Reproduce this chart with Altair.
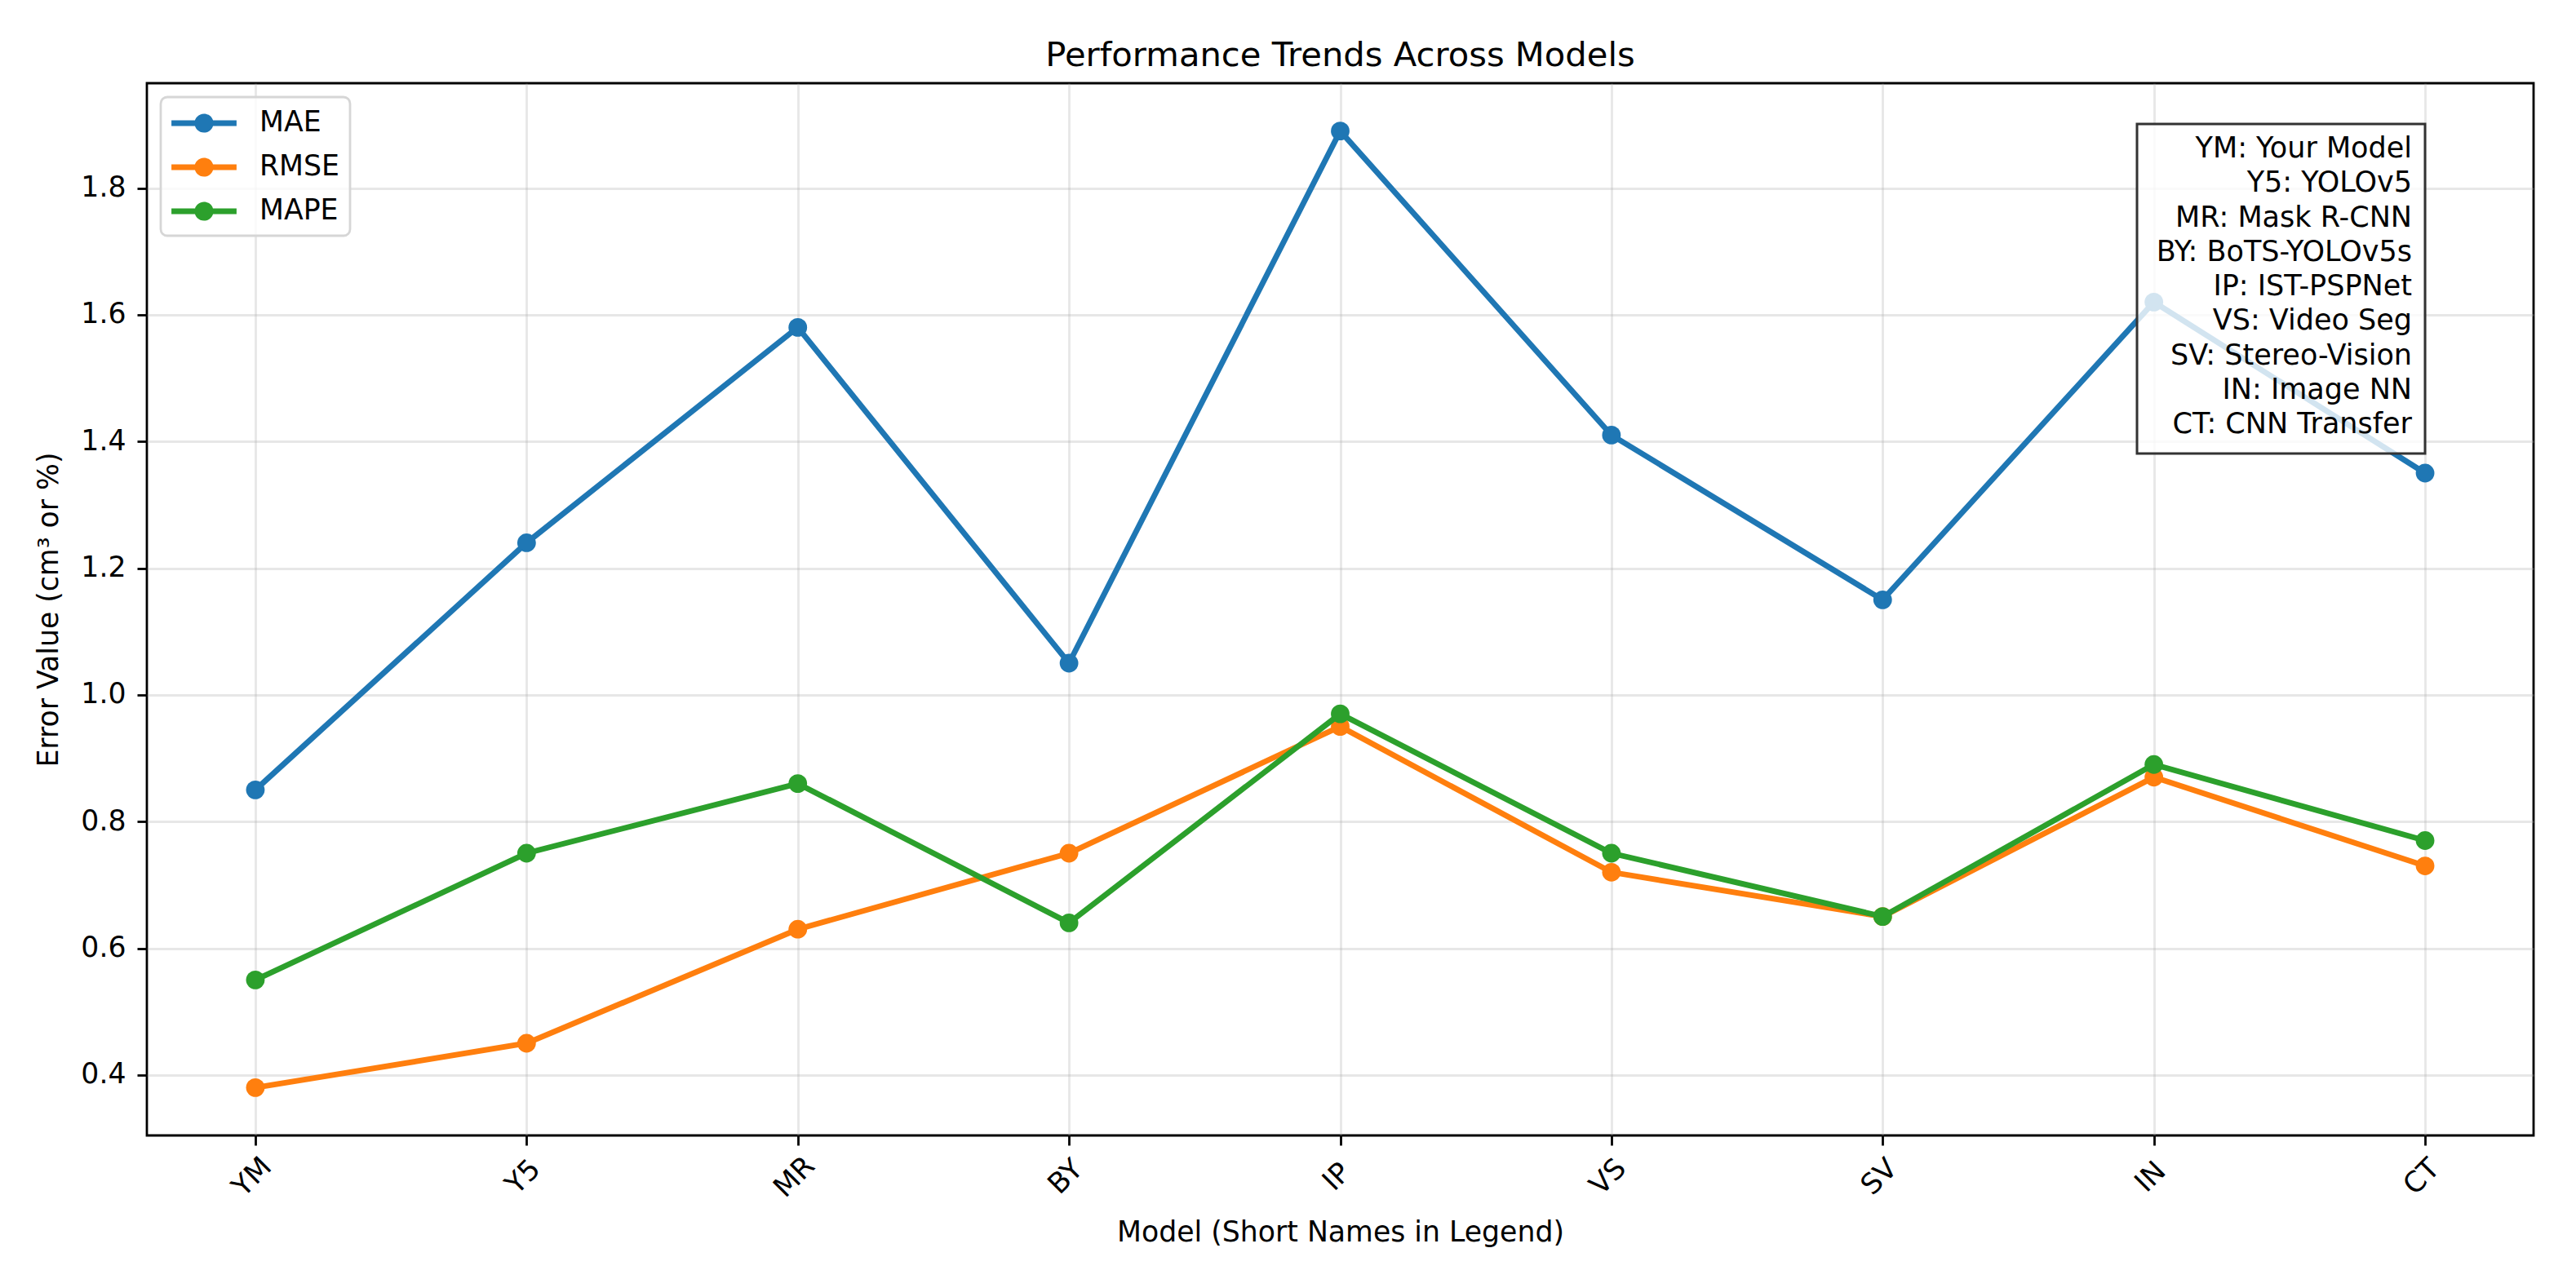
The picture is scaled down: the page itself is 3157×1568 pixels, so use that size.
import altair as alt
import pandas as pd

# ---- data ----
models = ["YM", "Y5", "MR", "BY", "IP", "VS", "SV", "IN", "CT"]
full_names = ["Your Model", "YOLOv5", "Mask R-CNN", "BoTS-YOLOv5s", "IST-PSPNet",
              "Video Seg", "Stereo-Vision", "Image NN", "CNN Transfer"]
mae = [0.85, 1.24, 1.58, 1.05, 1.89, 1.41, 1.15, 1.62, 1.35]
rmse = [0.38, 0.45, 0.63, 0.75, 0.95, 0.72, 0.65, 0.87, 0.73]
mape = [0.55, 0.75, 0.86, 0.64, 0.97, 0.75, 0.65, 0.89, 0.77]
series_names = ["MAE", "RMSE", "MAPE"]
series_colors = ["#1f77b4", "#ff7f0e", "#2ca02c"]
y_ticks = [0.4, 0.6, 0.8, 1.0, 1.2, 1.4, 1.6, 1.8]

FONT = "DejaVu Sans"
W, H = 2925, 1290

rows = []
for name, vals in zip(series_names, [mae, rmse, mape]):
    for i, (m, v) in enumerate(zip(models, vals)):
        rows.append({"Model": m, "Metric": name, "Value": v, "order": i})
df = pd.DataFrame(rows)

all_vals = mae + rmse + mape
lo, hi = min(all_vals), max(all_vals)
pad = (hi - lo) * 0.05
y_domain = [lo - pad, hi + pad]

x_enc = alt.X("Model:N", sort=models,
              scale=alt.Scale(type="point", padding=0.4, domain=models),
              axis=alt.Axis(title="Model (Short Names in Legend)", labelAngle=315,
                            labelAlign="center", labelBaseline="middle",
                            labelPadding=39, labelOffset=-4, tickSize=12, tickWidth=2.8,
                            tickColor="black", domain=False, grid=True,
                            gridColor="#b0b0b0", gridOpacity=0.3, gridWidth=2.8,
                            labelFontSize=34.7, labelFont=FONT, labelColor="black",
                            titleFontSize=34.7, titleFont=FONT, titleFontWeight="normal",
                            titleColor="black", titleX=W / 2, titleY=119,
                            titleAlign="center", titleBaseline="middle"))
y_enc = alt.Y("Value:Q",
              scale=alt.Scale(domain=y_domain, zero=False, nice=False),
              axis=alt.Axis(title="Error Value (cm³ or %)", values=y_ticks, format=".1f",
                            tickSize=12, tickWidth=2.8, tickColor="black", domain=False,
                            grid=True, gridColor="#b0b0b0", gridOpacity=0.3, gridWidth=2.8,
                            labelPadding=14, labelFontSize=34.7, labelFont=FONT,
                            labelColor="black", titleFontSize=34.7, titleFont=FONT,
                            titleFontWeight="normal", titleColor="black",
                            titleX=-120, titleY=H / 2, titleAngle=270,
                            titleAlign="center", titleBaseline="middle"))

# legend glyph: line with a circle marker (unit r = 19 px)
legend_path = ("M -2.1 -0.184 L -0.45 -0.184 L -0.45 0.184 L -2.1 0.184 Z "
               "M 0.45 -0.184 L 2.1 -0.184 L 2.1 0.184 L 0.45 0.184 Z "
               "M -0.61 0 A 0.61 0.61 0 1 1 0.61 0 A 0.61 0.61 0 1 1 -0.61 0 Z")

color_scale = alt.Scale(domain=series_names, range=series_colors)
legend = alt.Legend(title=None, orient="none", legendX=17, legendY=17,
                    symbolType=legend_path, symbolSize=1444, symbolStrokeWidth=0,
                    symbolOffset=21, symbolOpacity=1, labelFontSize=34.7,
                    labelFont=FONT, labelColor="black", labelOffset=49,
                    rowPadding=18, padding=13,
                    fillColor="rgba(255,255,255,0.8)", strokeColor="#d6d6d6",
                    cornerRadius=8)

layers = []
for name, col in zip(series_names, series_colors):
    sub = df[df["Metric"] == name]
    base = alt.Chart(sub).encode(x=x_enc, y=y_enc)
    line = base.mark_line(strokeWidth=6.9, color=col).encode(order="order:Q")
    pts = base.mark_point(filled=True, shape="circle", size=520, opacity=1).encode(
        color=alt.Color("Metric:N", scale=color_scale, legend=legend))
    layers += [line, pts]

# annotation box with the full model names
box_text = "\n".join(f"{m}: {n}" for m, n in zip(models, full_names))
box = alt.Chart(pd.DataFrame({"t": [box_text]})).mark_rect(
    fill="white", fillOpacity=0.8, stroke="#333333", strokeWidth=3
).encode(x=alt.value(2439), x2=alt.value(2792), y=alt.value(50), y2=alt.value(454))
txt = alt.Chart(pd.DataFrame({"t": [box_text]})).mark_text(
    align="right", baseline="middle", lineBreak="\n", lineHeight=42.25,
    fontSize=35, font=FONT, color="black"
).encode(x=alt.value(2776), y=alt.value(80), text="t:N")

chart = alt.layer(*layers, box, txt).properties(
    width=W, height=H, background="white",
    title=alt.TitleParams("Performance Trends Across Models", fontSize=41.7, font=FONT,
                          fontWeight="normal", color="black", anchor="middle",
                          baseline="alphabetic", offset=22, dy=43, frame="group"),
    autosize=alt.AutoSizeParams(type="none"),
    padding={"left": 172, "top": 94, "right": 40, "bottom": 160},
).configure_view(stroke="black", strokeWidth=2.8).configure_legend(strokeWidth=2.8)

chart.save("out.html", embed_options={"renderer": "svg", "actions": False})
